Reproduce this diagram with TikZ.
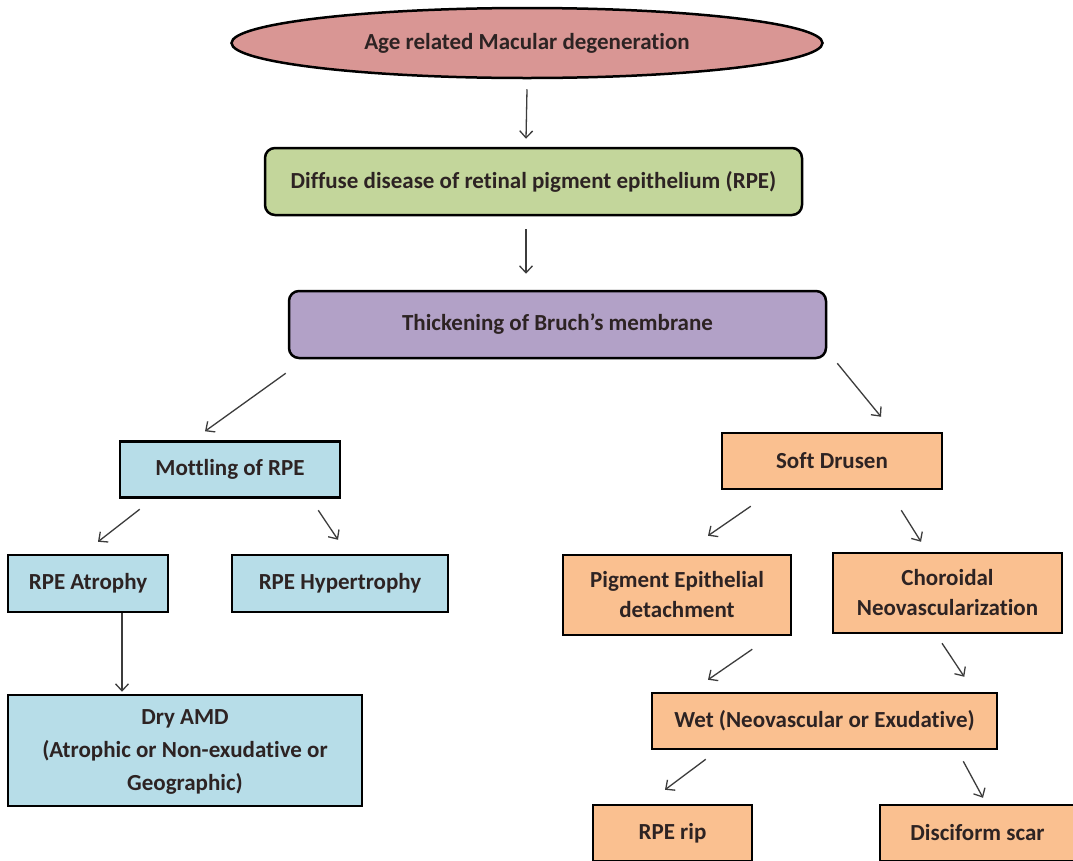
\documentclass[tikz,border=0pt]{standalone}
\usepackage{fontspec}
\setmainfont{Carlito}[Ligatures={NoCommon}]
\usetikzlibrary{shapes.geometric,arrows.meta,calc}
\definecolor{pinkf}{RGB}{217,150,148}
\definecolor{greenf}{RGB}{195,214,155}
\definecolor{purplef}{RGB}{178,161,199}
\definecolor{bluef}{RGB}{183,221,232}
\definecolor{orangef}{RGB}{250,192,144}
\definecolor{txt}{RGB}{45,35,35}
\definecolor{arr}{RGB}{60,60,60}
\tikzset{
  base/.style={draw=black,line width=2.5pt,inner sep=0pt,align=center,text=txt,
    font=\fontsize{23}{33}\selectfont\bfseries},
  ell/.style={base,ellipse},
  rbox/.style={base,rectangle,rounded corners=10pt},
  sbox/.style={base,rectangle},
  tight/.style={font=\fontsize{23}{30}\selectfont\bfseries},
  conn/.style={draw=arr,line width=1.3pt,-{Straight Barb[length=7pt,width=13pt,line width=1.3pt]}}
}
\begin{document}
\begin{tikzpicture}[x=1pt,y=-1pt]
\useasboundingbox (0,0) rectangle (1073,860);
\clip (0,0) rectangle (1073,860);
\fill[white] (0,0) rectangle (1073,860);

\node[ell,fill=pinkf,minimum width=591pt,minimum height=70pt] (amd) at (527,43) {Age related Macular degeneration};
\node[rbox,fill=greenf,minimum width=537pt,minimum height=67pt] (diffuse) at (533.5,181.5) {Diffuse disease of retinal pigment epithelium (RPE)};
\node[rbox,fill=purplef,minimum width=537pt,minimum height=67pt] (thick) at (557.5,324.5) {Thickening of Bruch’s membrane};

\node[sbox,fill=bluef,minimum width=220pt,minimum height=56pt] (mottle) at (230,469.5) {Mottling of RPE};
\node[sbox,fill=bluef,minimum width=160pt,minimum height=57pt] (atrophy) at (88,583.5) {RPE Atrophy};
\node[sbox,fill=bluef,minimum width=216pt,minimum height=57pt] (hyper) at (340,583.5) {RPE Hypertrophy};
\node[sbox,fill=bluef,minimum width=354pt,minimum height=111pt,text depth=0pt] (dry) at (185,750.5) {Dry AMD\\(Atrophic or Non-exudative or\\Geographic)};

\node[sbox,fill=orangef,minimum width=220pt,minimum height=56pt] (soft) at (832,461) {Soft Drusen};
\node[sbox,fill=orangef,tight,minimum width=228pt,minimum height=80pt] (ped) at (677,595) {Pigment Epithelial\\detachment};
\node[sbox,fill=orangef,tight,minimum width=229pt,minimum height=80pt] (cnv) at (947.5,593) {Choroidal\\Neovascularization};
\node[sbox,fill=orangef,minimum width=345pt,minimum height=56pt] (wet) at (824.5,721) {Wet (Neovascular or Exudative)};
\node[sbox,fill=orangef,minimum width=159pt,minimum height=56pt] (rip) at (672.5,833) {RPE rip};
\node[sbox,fill=orangef,minimum width=195pt,minimum height=56pt] (scar) at (977.5,833) {Disciform scar};

\draw[conn] ($(amd.south)+(0,10)$) -- ($(diffuse.north)+(-7.5,-8)$);
\draw[conn] ($(diffuse.south)+(-7.5,13)$) -- ($(thick.north)+(-31.5,-16)$);
\draw[conn] ($(thick.south west)+(-2,14)$) -- ($(mottle.north)+(-25,-9)$);
\draw[conn] ($(thick.south east)+(10,4)$) -- ($(soft.north)+(49,-15)$);
\draw[conn] ($(mottle.south west)+(21,10.5)$) -- ($(atrophy.north)+(10,-12)$);
\draw[conn] ($(mottle.south east)+(-23,11.5)$) -- ($(hyper.north)+(-2,-14)$);
\draw[conn] ($(atrophy.south)+(34,0)$) -- ($(dry.north)+(-63,-2)$);
\draw[conn] ($(soft.south west)+(30,16)$) -- ($(ped.north)+(31,-18)$);
\draw[conn] ($(soft.south east)+(-42,20)$) -- ($(cnv.north)+(-26.5,-10)$);
\draw[conn] ($(ped.south east)+(-40,13)$) -- ($(wet.north)+(-116.5,-12)$);
\draw[conn] ($(cnv.south)+(-5.5,9)$) -- ($(wet.north east)+(-34,-15)$);
\draw[conn] ($(wet.south west)+(55,9)$) -- ($(rip.north)+(-7.5,-14)$);
\draw[conn] ($(wet.south east)+(-35,11)$) -- ($(scar.north)+(5.5,-6)$);
\end{tikzpicture}
\end{document}
